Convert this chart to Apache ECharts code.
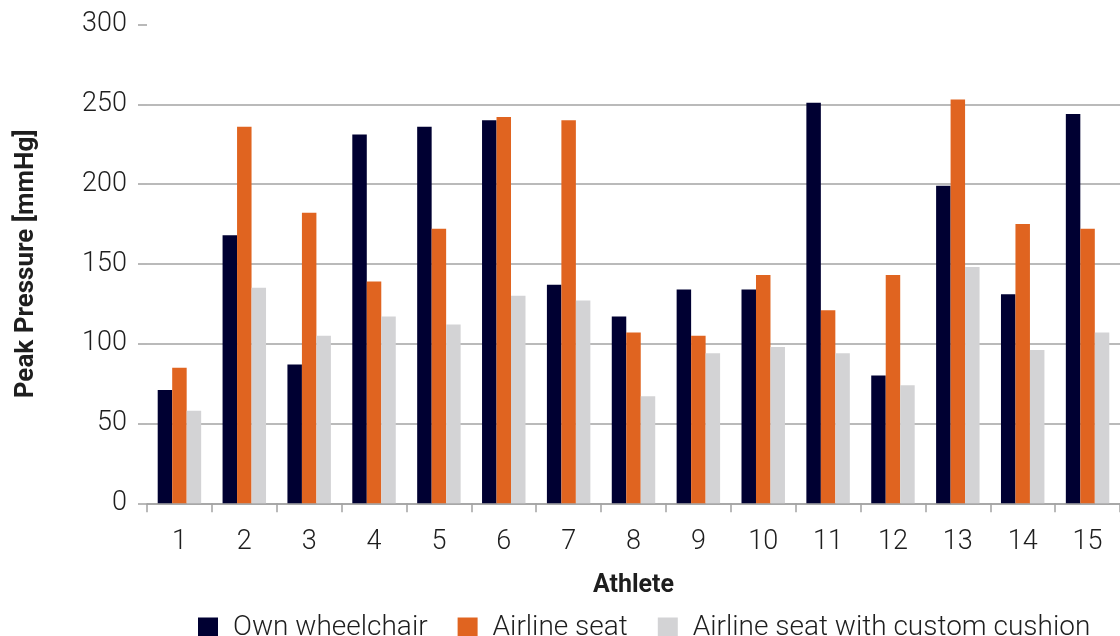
<!DOCTYPE html>
<html>
<head>
<meta charset="utf-8">
<script src="https://cdn.jsdelivr.net/npm/echarts@6/dist/echarts.min.js"></script>
<style>
  html, body { margin: 0; padding: 0; background: #ffffff; }
  #chart { width: 1120px; height: 636px; }
</style>
</head>
<body>
<div id="chart"></div>
<script>
// Peak pressure per athlete in three seating conditions (mmHg)
const athletes = ['1','2','3','4','5','6','7','8','9','10','11','12','13','14','15'];
const ownWheelchair = [71, 168, 87, 231, 236, 240, 137, 117, 134, 134, 251, 80, 199, 131, 244];
const airlineSeat = [85, 236, 182, 139, 172, 242, 240, 107, 105, 143, 121, 143, 253, 175, 172];
const airlineSeatCushion = [58, 135, 105, 117, 112, 130, 127, 67, 94, 98, 94, 74, 148, 96, 107];
const seriesNames = ['Own wheelchair', 'Airline seat', 'Airline seat with custom cushion'];
const yTicks = { min: 0, max: 300, interval: 50 };

const FONT = 'Roboto, "Noto Sans", sans-serif';
const TEXT = '#1e1e1e';
const GRID = '#a3a3a3';

const chart = echarts.init(document.getElementById('chart'));

function barSeries(name, data, color) {
  return {
    name: name,
    type: 'bar',
    data: data,
    barGap: '0%',
    barCategoryGap: '33%',
    itemStyle: { color: color },
    emphasis: { disabled: true }
  };
}

chart.setOption({
  animation: false,
  backgroundColor: '#ffffff',
  grid: { left: 147, right: -10, top: 24.5, bottom: 132.7, containLabel: false },
  legend: {
    left: 193,
    top: 608,
    itemWidth: 20,
    itemHeight: 21,
    itemGap: 30,
    icon: 'rect',
    textStyle: {
      fontFamily: FONT,
      fontWeight: 300,
      fontSize: 28,
      lineHeight: 24,
      color: TEXT,
      padding: [0, 0, 6, 10]
    },
    data: seriesNames
  },
  xAxis: {
    type: 'category',
    data: athletes,
    name: 'Athlete',
    nameLocation: 'middle',
    nameGap: 70,
    nameTextStyle: { fontFamily: FONT, fontWeight: 'bold', fontSize: 25, color: TEXT },
    axisLine: { show: true, lineStyle: { color: GRID, width: 1.5 } },
    axisTick: { show: true, length: 9, alignWithLabel: false, lineStyle: { color: GRID, width: 1.5 } },
    axisLabel: { margin: 25, fontFamily: FONT, fontWeight: 300, fontSize: 27, color: TEXT }
  },
  yAxis: {
    type: 'value',
    min: yTicks.min,
    max: yTicks.max,
    interval: yTicks.interval,
    name: 'Peak Pressure [mmHg]',
    nameLocation: 'middle',
    nameGap: 108,
    nameRotate: 90,
    nameTextStyle: { fontFamily: FONT, fontWeight: 'bold', fontSize: 26, color: TEXT },
    axisLine: { show: false },
    axisTick: { show: true, length: 9, lineStyle: { color: GRID, width: 1.5 } },
    axisLabel: { margin: 20, fontFamily: FONT, fontWeight: 300, fontSize: 27, color: TEXT },
    splitLine: {
      show: true,
      lineStyle: {
        width: 1.5,
        color: [GRID, GRID, GRID, GRID, GRID, GRID, 'rgba(0,0,0,0)']
      }
    }
  },
  series: [
    barSeries(seriesNames[0], ownWheelchair, '#000032'),
    barSeries(seriesNames[1], airlineSeat, '#E06420'),
    barSeries(seriesNames[2], airlineSeatCushion, '#D3D3D5')
  ]
});
</script>
</body>
</html>
